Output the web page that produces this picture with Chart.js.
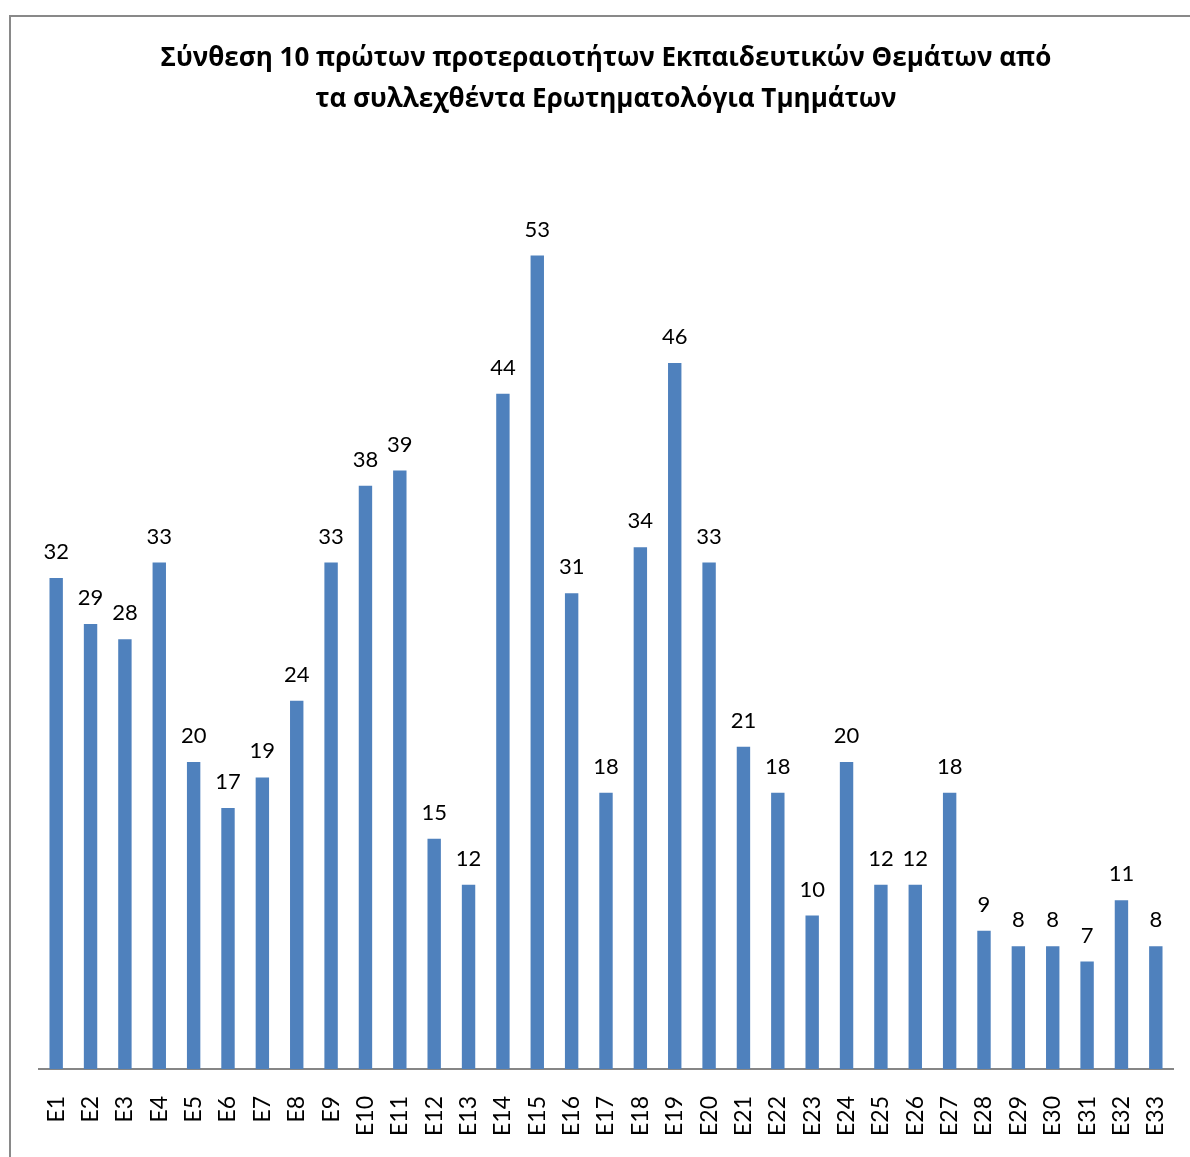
<!DOCTYPE html>
<html>
<head>
<meta charset="utf-8">
<script src="https://cdn.jsdelivr.net/npm/chart.js@4"></script>
<style>
  html, body { margin: 0; padding: 0; overflow: hidden; background: #fff; }
  #frame { position: absolute; left: 9px; top: 15px; width: 1220px; height: 1200px; border: 2px solid #898989; }
  #wrap { position: absolute; left: 0; top: 0; width: 1190px; height: 1157px; }
</style>
</head>
<body>
<div id="frame"></div>
<div id="wrap"><canvas id="myChart"></canvas></div>
<script>
var categories = ['E1','E2','E3','E4','E5','E6','E7','E8','E9','E10','E11','E12','E13','E14','E15','E16','E17',
    'E18','E19','E20','E21','E22','E23','E24','E25','E26','E27','E28','E29','E30','E31','E32','E33'];
var values = [32,29,28,33,20,17,19,24,33,38,39,15,12,44,53,31,18,34,46,33,21,18,10,20,12,12,18,9,8,8,7,11,8];
var titleLines = ['Σύνθεση 10 πρώτων προτεραιοτήτων Εκπαιδευτικών Θεμάτων από',
    'τα συλλεχθέντα Ερωτηματολόγια Τμημάτων'];

var fontFamily = 'Lato, "Liberation Sans", sans-serif';

// draw the value above each bar
var barLabels = {
    id: 'barLabels',
    afterDatasetsDraw: function (chart) {
        var ctx = chart.ctx;
        var meta = chart.getDatasetMeta(0);
        ctx.save();
        ctx.font = '22px ' + fontFamily;
        ctx.fillStyle = '#000';
        ctx.textAlign = 'center';
        ctx.textBaseline = 'middle';
        meta.data.forEach(function (bar, i) {
            ctx.fillText(values[i], bar.x, bar.y - 26);
        });
        ctx.restore();
    }
};

var ctx = document.getElementById('myChart').getContext('2d');
var myChart = new Chart(ctx, {
    type: 'bar',
    data: {
        labels: categories,
        datasets: [{
            data: values,
            backgroundColor: '#4F81BD',
            borderWidth: 0,
            barPercentage: 0.39,
            categoryPercentage: 1
        }]
    },
    options: {
        responsive: true,
        maintainAspectRatio: false,
        animation: false,
        layout: { padding: { left: 39, right: 17, top: 0, bottom: 0 } },
        plugins: {
            legend: { display: false },
            tooltip: { enabled: false },
            title: {
                display: true,
                text: titleLines,
                color: '#000',
                font: { family: '"Open Sans", sans-serif', size: 26, weight: 'bold', lineHeight: 1.58 },
                padding: { top: 38, bottom: 28 }
            }
        },
        scales: {
            x: {
                grid: { display: false, drawTicks: false },
                border: { color: '#868686', width: 2 },
                ticks: {
                    color: '#000',
                    font: { family: fontFamily, size: 23 },
                    minRotation: 90,
                    maxRotation: 90,
                    padding: 27,
                    autoSkip: false
                },
                afterFit: function (scale) {
                    scale.height = 88;
                    scale.paddingLeft = 0;
                    scale.paddingRight = 0;
                }
            },
            y: {
                display: false,
                min: 0,
                max: 60
            }
        }
    },
    plugins: [barLabels]
});
</script>
</body>
</html>
